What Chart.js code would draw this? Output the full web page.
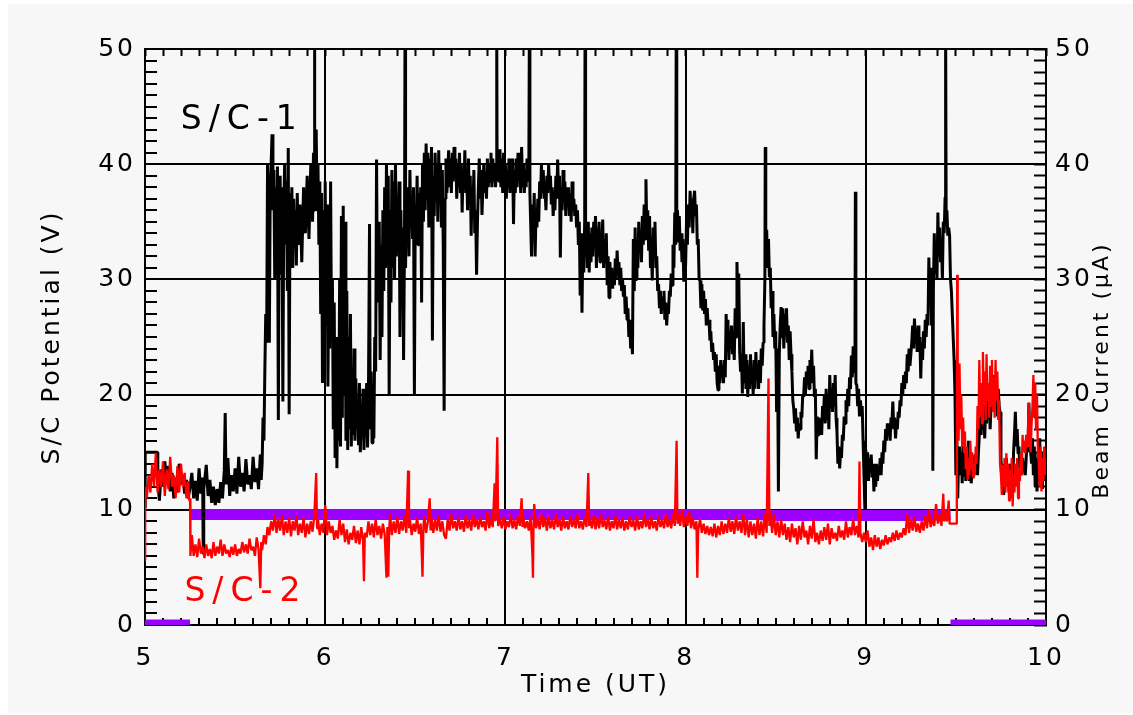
<!DOCTYPE html>
<html><head><meta charset="utf-8">
<script src="https://cdn.jsdelivr.net/npm/chart.js@4.4.0/dist/chart.umd.min.js"></script>
<style>html,body{margin:0;padding:0;background:#fff;}#wrap{width:1133px;height:715px;position:relative;}</style>
</head><body><div id="wrap"><canvas id="c" width="1133" height="715"></canvas></div>
<script>
// ---- axis definitions ----
const xRange = [5, 10];
const yRange = [0, 50];
const xTitle = 'Time (UT)';
const yTitle = 'S/C Potential (V)';
const y2Title = 'Beam Current (\u03bcA)';
const label1 = 'S/C-1';
const label2 = 'S/C-2';
const label1Pos = [5.54, 43.8];
const label2Pos = [5.56, 2.8];

// ---- S/C-1 potential (V) : [time UT, volts] ----
const sc1 = [[5.000,10.2],[5.001,15.0],[5.07,15.0],[5.071,12.5],[5.08,10.8],[5.09,13.5],[5.10,12.0],[5.11,14.2],[5.12,12.4],[5.13,13.8],[5.14,11.6],[5.15,13.2],[5.16,11.0],[5.17,12.8],[5.18,11.5],[5.19,14.0],[5.20,12.2],[5.21,13.0],[5.22,11.4],[5.23,12.6],[5.24,11.0],[5.25,12.0],
[5.26,13.2],[5.27,11.0],[5.28,12.5],[5.29,10.8],[5.30,13.6],[5.31,11.4],[5.32,12.8],[5.323,6.2],[5.326,11.8],[5.34,13.9],[5.35,11.2],[5.36,12.6],[5.37,10.6],[5.38,12.0],[5.39,10.4],[5.40,11.8],[5.41,10.6],[5.42,12.4],[5.43,11.0],[5.44,13.4],[5.445,18.4],[5.45,12.2],[5.46,14.5],[5.47,11.2],[5.48,13.0],[5.49,11.6],[5.50,13.6],[5.51,11.4],[5.52,14.6],[5.53,12.0],[5.54,13.2],[5.55,11.6],[5.56,14.4],[5.57,12.2],[5.58,13.0],[5.59,11.8],[5.60,14.6],[5.61,12.4],[5.62,13.6],[5.63,11.8],[5.64,14.8],[5.645,12.6],[5.65,14.0],[5.655,18.0],[5.66,16.0],[5.665,22.0],[5.67,27.0],[5.675,24.5],[5.68,40.0],[5.685,34.0],[5.69,24.5],[5.695,38.0],[5.70,40.0],[5.705,42.6],[5.71,36.0],[5.715,39.5],[5.72,30.0],[5.725,38.0],[5.73,32.0],[5.735,39.8],[5.74,17.8],[5.745,37.0],[5.75,39.0],[5.755,30.5],[5.76,38.0],[5.765,19.4],[5.77,36.0],[5.775,40.0],[5.78,33.0],[5.785,38.5],[5.79,29.0],[5.795,41.4],[5.80,18.3],[5.805,37.5],[5.81,32.0],[5.815,38.0],[5.82,31.0],[5.825,37.0],[5.83,33.0],[5.835,36.0],[5.84,31.2],[5.845,37.5],[5.85,33.0],[5.86,36.5],[5.87,31.5],[5.88,38.0],[5.89,34.0],[5.90,39.0],[5.91,33.5],[5.92,40.0],[5.93,35.0],[5.935,41.0],[5.94,36.0],[5.941,52],[5.942,38.0],[5.95,43.0],[5.955,36.0],[5.96,40.0],[5.965,33.0],[5.97,38.5],[5.975,27.0],[5.98,37.5],[5.985,21.0],[5.99,36.0],[5.995,22.5],[6.00,38.5],[6.005,26.0],[6.01,36.5],[6.015,20.7],[6.02,30.0],[6.025,24.0],[6.03,38.5],[6.035,25.0],[6.04,30.0],[6.045,17.0],[6.05,28.0],[6.055,14.5],[6.06,25.0],[6.065,13.6],[6.07,22.0],[6.075,16.0],[6.08,30.0],[6.085,15.5],[6.09,35.5],[6.095,18.0],[6.10,36.4],[6.105,20.0],[6.11,35.0],[6.115,16.0],[6.12,29.0],[6.125,15.2],[6.13,25.0],[6.135,17.0],[6.14,27.0],[6.145,15.5],[6.15,22.0],[6.155,16.5],[6.16,24.0],[6.165,16.0],[6.17,21.4],[6.175,17.0],[6.18,19.5],[6.185,15.6],[6.19,21.0],[6.195,15.0],[6.20,19.0],[6.205,16.2],[6.21,20.5],[6.215,15.2],[6.22,18.0],[6.225,16.8],[6.23,21.0],[6.235,15.4],[6.24,20.0],[6.246,34.8],[6.25,17.0],[6.255,22.0],[6.26,15.8],[6.265,20.0],[6.27,16.2],[6.275,25.0],[6.28,22.0],[6.285,40.4],[6.29,28.0],[6.30,35.0],[6.305,23.0],[6.31,33.0],[6.315,25.0],[6.32,36.0],[6.325,29.0],[6.33,38.0],[6.335,31.0],[6.34,40.0],[6.345,33.0],[6.35,39.0],[6.355,19.9],[6.36,36.0],[6.365,28.0],[6.37,39.5],[6.375,31.0],[6.38,38.5],[6.385,30.0],[6.39,40.0],[6.395,32.0],[6.40,37.0],[6.405,34.0],[6.41,38.5],[6.415,25.0],[6.42,36.0],[6.425,29.0],[6.43,34.5],[6.435,23.0],[6.44,33.0],[6.443,52],[6.446,31.0],[6.45,36.0],[6.455,33.0],[6.46,38.0],[6.465,32.0],[6.47,39.5],[6.475,35.0],[6.48,37.0],[6.485,33.5],[6.49,38.0],[6.495,20.0],[6.50,36.5],[6.505,34.0],[6.51,39.0],[6.515,33.0],[6.52,37.5],[6.525,34.5],[6.53,38.0],[6.535,28.0],[6.54,40.0],[6.545,35.0],[6.55,41.0],[6.555,36.0],[6.56,41.8],[6.565,37.0],[6.57,41.0],[6.575,34.5],[6.58,40.5],[6.585,36.0],[6.59,41.5],[6.595,24.7],[6.60,39.0],[6.605,35.5],[6.61,41.0],[6.615,37.0],[6.62,40.0],[6.625,35.0],[6.63,41.2],[6.635,36.5],[6.64,40.0],[6.645,34.5],[6.65,39.5],[6.655,33.0],[6.66,18.6],[6.665,37.0],[6.67,40.5],[6.675,37.5],
[6.68,39.0],[6.685,41.2],[6.69,38.0],[6.695,40.5],[6.70,37.5],[6.705,41.0],[6.71,38.5],[6.715,41.5],[6.72,39.0],[6.725,40.5],[6.73,37.0],[6.735,40.0],[6.74,38.0],[6.745,41.0],[6.75,37.5],[6.755,40.0],[6.76,35.8],[6.765,39.5],[6.77,38.0],[6.775,41.2],[6.78,37.5],[6.785,39.5],[6.79,36.0],[6.795,40.5],[6.80,37.0],[6.805,39.0],[6.81,33.8],[6.815,38.0],[6.82,36.0],[6.825,39.5],[6.83,34.0],[6.835,36.0],[6.84,30.4],[6.845,35.0],[6.85,38.0],[6.855,40.5],[6.86,37.0],[6.865,39.5],[6.87,35.6],[6.875,38.0],[6.88,40.0],[6.885,37.5],[6.89,39.0],[6.895,37.0],[6.90,40.5],[6.905,38.0],[6.91,40.0],[6.915,38.5],[6.92,41.0],[6.925,38.0],[6.93,40.5],[6.935,38.5],[6.94,40.0],[6.945,38.0],[6.95,39.0],[6.952,52],[6.954,39.5],[6.96,41.0],[6.965,38.5],[6.97,41.3],[6.975,38.0],[6.98,40.5],[6.985,37.5],[6.99,41.0],[6.995,38.5],[7.00,40.0],[7.005,37.0],[7.01,39.5],[7.015,38.0],[7.02,40.5],[7.025,37.5],[7.03,39.0],[7.035,38.0],[7.04,40.5],[7.045,34.8],[7.05,39.5],[7.055,37.5],[7.06,40.5],[7.065,38.0],[7.07,41.0],[7.075,38.5],[7.08,40.0],[7.085,37.5],[7.09,41.5],[7.095,38.0],[7.10,40.0],[7.105,37.5],[7.11,39.5],[7.115,38.0],[7.12,40.5],[7.125,38.5],[7.13,39.0],[7.133,52],[7.136,37.5],[7.14,35.0],[7.145,32.0],[7.15,36.5],[7.155,34.0],[7.16,37.5],[7.165,32.0],[7.17,36.0],[7.175,34.5],[7.18,37.0],[7.185,35.0],[7.19,38.5],[7.195,37.0],[7.20,40.0],[7.205,37.5],[7.21,39.5],[7.215,37.0],[7.22,38.0],[7.225,36.0],[7.23,39.0],[7.235,37.5],[7.24,40.0],[7.245,38.0],[7.25,39.0],[7.255,36.5],[7.26,38.0],[7.265,35.5],[7.27,37.0],[7.275,36.0],[7.28,39.0],[7.285,37.0],[7.29,40.4],[7.295,37.5],[7.30,39.0],[7.305,31.9],[7.31,38.0],[7.315,36.0],[7.32,39.5],[7.325,37.0],[7.33,38.5],[7.335,35.5],[7.34,38.0],[7.345,36.5],[7.35,38.0],[7.355,35.5],[7.36,37.5],[7.365,35.0],[7.37,38.5],[7.375,36.0],[7.38,37.0],[7.385,35.5],[7.39,36.5],[7.395,34.5],[7.40,36.0],[7.405,33.0],[7.41,35.0],[7.415,28.6],[7.42,34.0],[7.425,27.1],[7.43,33.5],[7.435,30.6],[7.44,35.1],[7.442,52],[7.445,32.0],[7.45,34.5],[7.455,31.0],[7.46,35.0],[7.465,30.6],[7.47,34.0],[7.475,31.5],[7.48,34.5],[7.485,32.0],[7.49,35.0],
[7.495,33.0],[7.50,35.5],[7.505,31.0],[7.51,34.5],[7.515,32.0],[7.52,35.0],[7.525,31.5],[7.53,34.0],[7.535,32.5],[7.54,35.2],[7.545,31.0],[7.55,33.5],[7.555,31.5],[7.56,34.0],[7.565,29.5],[7.57,32.0],[7.575,28.4],[7.58,31.5],[7.585,29.5],[7.59,31.0],[7.595,29.2],[7.60,30.5],[7.605,29.5],[7.61,31.8],[7.615,30.0],[7.62,32.5],[7.625,30.5],[7.63,31.5],[7.635,29.5],[7.64,31.0],[7.645,29.0],[7.65,30.0],[7.655,28.5],[7.66,29.5],[7.665,27.0],[7.67,28.5],[7.675,26.5],[7.68,27.5],[7.685,25.0],[7.69,26.5],[7.695,24.0],[7.70,25.5],[7.705,23.5],[7.71,33.5],[7.715,29.0],[7.72,34.5],[7.725,30.0],[7.73,33.0],[7.735,31.0],[7.74,35.0],[7.745,32.5],[7.75,34.0],[7.755,31.5],[7.76,35.5],[7.765,33.0],[7.77,36.5],[7.775,33.5],[7.78,38.7],[7.785,34.0],[7.79,36.0],[7.795,32.5],[7.80,35.5],[7.805,31.0],[7.81,33.0],[7.815,29.9],[7.82,34.5],[7.825,32.0],[7.83,35.0],[7.835,31.0],[7.84,32.0],[7.845,29.0],[7.85,29.6],[7.855,27.5],[7.86,29.0],[7.865,27.0],[7.87,28.5],[7.875,27.5],[7.88,29.0],[7.885,26.5],[7.89,28.0],[7.895,26.0],[7.90,27.5],[7.905,27.0],[7.91,29.0],[7.915,28.5],[7.92,30.5],[7.925,29.5],[7.93,33.0],[7.935,31.0],[7.94,35.8],[7.945,33.0],[7.948,52],[7.951,34.0],[7.955,36.0],[7.96,33.2],[7.965,35.5],[7.97,32.5],[7.975,34.0],[7.98,31.5],[7.985,33.5],[7.99,29.8],[7.995,33.0],[8.00,31.2],[8.005,35.0],[8.01,33.0],[8.015,36.5],[8.02,34.5],[8.025,37.7],[8.03,35.5],[8.035,37.0],
[8.04,34.0],[8.045,37.0],[8.05,37.7],[8.055,35.5],[8.06,36.5],[8.065,33.0],[8.07,33.5],[8.075,30.0],[8.08,29.9],[8.085,27.5],[8.09,29.6],[8.095,27.3],[8.10,29.0],[8.105,27.0],[8.11,28.3],[8.115,26.0],[8.12,27.5],[8.125,26.0],[8.13,26.5],[8.135,24.7],[8.14,25.5],[8.145,23.7],[8.15,24.5],[8.155,23.0],[8.16,23.7],[8.165,22.0],[8.17,23.5],[8.175,21.0],[8.18,20.4],[8.185,22.5],[8.19,21.0],[8.195,23.0],[8.20,21.5],[8.205,22.5],[8.21,21.0],[8.215,23.0],[8.22,21.5],[8.225,27.0],[8.23,24.0],[8.235,26.5],[8.24,23.0],[8.245,25.5],[8.25,24.0],[8.255,26.0],[8.26,23.5],[8.265,25.0],[8.27,23.0],[8.275,27.5],[8.28,25.0],[8.285,31.5],[8.29,28.0],[8.295,30.5],[8.30,23.7],[8.305,22.0],[8.31,23.5],[8.315,20.1],
[8.32,26.3],[8.325,21.0],[8.33,23.5],[8.335,20.5],[8.34,23.0],[8.345,19.8],[8.35,22.5],[8.355,20.5],[8.36,23.5],[8.365,21.0],[8.37,22.0],[8.375,20.0],[8.38,23.0],[8.385,20.5],[8.39,23.7],[8.395,21.5],[8.40,22.5],[8.405,20.5],[8.41,23.0],[8.415,21.0],[8.42,24.0],[8.425,22.5],[8.43,24.5],[8.435,26.0],[8.44,30.0],[8.442,41.5],[8.445,32.0],[8.45,34.3],[8.455,31.0],[8.46,33.5],[8.465,30.2],[8.47,31.0],[8.475,27.5],[8.48,29.0],[8.485,25.0],[8.49,27.0],[8.495,24.0],[8.50,25.5],[8.505,18.5],[8.51,24.0],[8.515,11.6],[8.52,23.5],[8.525,26.0],[8.53,27.6],[8.535,25.0],[8.54,27.5],[8.545,24.0],[8.55,27.0],[8.555,25.5],[8.56,27.5],[8.565,24.5],[8.57,26.0],[8.575,23.0],[8.58,25.5],[8.585,23.5],[8.59,22.0],[8.595,19.5],[8.60,18.8],[8.605,17.5],[8.61,18.8],[8.615,16.8],[8.62,18.0],[8.625,16.2],[8.63,17.5],[8.635,17.0],[8.64,18.5],[8.645,18.0],[8.65,20.0],[8.655,19.8],[8.66,21.5],[8.665,20.0],[8.67,22.0],[8.675,21.0],[8.68,22.5],[8.685,20.5],[8.69,23.0],[8.695,21.5],[8.70,23.9],[8.705,21.0],[8.71,22.5],[8.715,19.8],[8.72,20.5],[8.725,14.4],[8.73,18.1],[8.735,16.5],[8.74,18.0],[8.745,17.0],[8.75,17.5],[8.755,16.5],[8.76,19.0],[8.765,18.0],[8.77,20.0],[8.775,17.5],[8.78,20.5],[8.785,18.0],[8.79,19.5],[8.795,17.0],[8.80,21.7],[8.805,19.0],[8.81,20.5],[8.815,18.5],[8.82,21.0],[8.825,19.0],[8.83,21.7],[8.835,18.0],[8.84,16.8],[8.845,14.0],[8.85,15.5],[8.855,13.6],[8.86,15.0],[8.865,14.5],[8.87,16.5],[8.875,16.0],[8.88,18.1],[8.885,17.5],[8.89,19.5],[8.895,18.5],[8.90,20.5],[8.905,19.0],[8.91,21.5],[8.915,20.5],[8.92,23.4],[8.925,21.5],[8.93,24.2],[8.935,22.0],[8.94,23.0],[8.942,37.6],[8.945,21.0],[8.95,20.8],[8.955,19.0],[8.96,20.5],[8.965,18.1],[8.97,19.5],[8.975,18.5],[8.98,19.0],[8.985,16.0],[8.99,13.0],[8.995,10.0],[9.00,15.2],[9.005,13.0],[9.01,15.0],[9.015,12.5],[9.02,14.5],[9.025,13.5],[9.03,14.8],[9.035,12.8],[9.04,14.0],[9.045,11.6],[9.05,13.5],[9.055,12.0],[9.06,14.0],[9.065,12.5],[9.07,13.8],[9.075,13.0],[9.08,14.5],[9.085,13.0],[9.09,15.0],[9.095,14.0],[9.10,16.0],[9.105,15.0],[9.11,17.0],[9.115,16.0],[9.12,17.5],[9.125,16.5],[9.13,17.5],[9.135,16.0],[9.14,18.0],[9.145,17.5],[9.15,19.4],[9.155,17.0],[9.16,18.0],[9.165,16.2],[9.17,17.5],[9.175,17.0],[9.18,18.5],[9.185,18.0],[9.19,19.5],[9.195,19.0],[9.20,21.0],[9.205,20.0],[9.21,21.7],[9.215,20.5],[9.22,22.0],[9.225,21.0],[9.23,23.5],[9.235,22.0],[9.24,24.0],[9.245,22.5],[9.25,23.5],[9.255,24.5],[9.26,26.0],[9.265,24.0],[9.27,26.6],[9.275,24.5],[9.28,25.5],[9.285,23.7],[9.29,26.0],[9.295,24.0],[9.30,25.0],[9.305,21.4],[9.31,24.5],[9.315,23.0],[9.32,25.5],[9.325,24.0],[9.33,26.5],[9.335,25.0],[9.34,27.0],[9.345,26.0],[9.35,31.9],[9.355,28.0],[9.36,31.0],[9.365,26.0],[9.37,30.0],[9.372,13.4],[9.375,29.0],[9.38,34.0],[9.385,30.5],[9.39,33.0],[9.395,30.0],[9.40,35.8],[9.405,32.0],[9.41,34.5],[9.415,31.5],[9.42,33.0],[9.425,30.0],[9.43,35.0],[9.435,34.0],[9.44,37.1],[9.443,52],[9.446,35.0],[9.45,36.0],[9.455,33.8],[9.46,34.5],[9.465,33.8],[9.47,30.0],[9.475,29.0],[9.48,27.0],[9.485,25.0],[9.49,23.0],[9.495,20.0],[9.50,13.0],[9.505,16.5],[9.51,11.0],[9.515,14.5],[9.52,15.5],[9.525,13.0],[9.53,15.0],[9.535,12.3],[9.54,16.2],[9.545,13.0],[9.55,15.0],[9.555,12.5],[9.56,14.5],[9.565,13.0],[9.57,16.0],[9.575,12.5],[9.58,14.0],[9.585,12.3],[9.59,13.5],[9.595,14.5],[9.60,13.0],[9.605,14.8],[9.61,13.5],[9.615,14.0],[9.62,13.0],[9.625,15.0],[9.63,16.5],[9.635,18.0],[9.64,16.5],[9.645,19.8],[9.65,17.0],[9.655,18.5],[9.66,16.2],[9.665,19.0],[9.67,17.5],[9.675,20.0],[9.68,18.0],[9.685,19.5],[9.69,17.0],[9.695,19.0],[9.70,18.5],[9.705,20.5],[9.71,19.0],[9.715,21.7],[9.72,19.5],[9.725,21.0],[9.73,18.1],[9.735,20.5],[9.74,19.0],[9.745,18.5],[9.75,14.5],[9.755,12.5],[9.76,14.0],[9.765,11.3],[9.77,13.5],[9.775,12.0],[9.78,14.5],[9.785,12.5],[9.79,13.5],[9.795,11.5],[9.80,14.0],[9.805,12.5],[9.81,13.5],[9.815,12.0],[9.82,15.0],[9.825,16.5],[9.83,18.5],[9.835,15.5],[9.84,17.0],[9.845,14.9],[9.85,15.5],[9.855,13.5],[9.86,14.5],[9.865,13.0],[9.87,14.5],[9.875,13.5],[9.88,14.0],[9.885,13.0],[9.89,14.5],[9.895,16.0],[9.90,15.0],[9.905,19.3],[9.91,16.0],[9.915,15.0],[9.92,14.0],[9.925,16.2],[9.93,13.0],[9.935,15.5],[9.94,12.0],[9.945,14.5],[9.95,11.6],[9.955,15.0],[9.96,12.5],[9.965,16.2],[9.97,12.0],[9.975,14.5],[9.98,11.8],[9.985,15.0],[9.99,12.5],[9.995,14.0],[10.0,13.0]];

// ---- S/C-2 potential (V) : [time UT, volts] ----
const sc2 = [[5.000,5.6],[5.001,12.0],[5.01,11.0],[5.02,13.0],[5.03,11.5],[5.04,14.0],[5.05,12.0],[5.06,14.9],[5.07,11.5],[5.08,13.5],[5.09,12.0],[5.10,14.2],[5.11,11.2],[5.12,13.5],[5.13,11.8],[5.14,14.6],[5.15,12.0],[5.16,13.0],[5.17,11.0],[5.18,13.8],[5.19,11.5],[5.20,14.0],[5.21,12.0],[5.22,13.2],[5.23,11.0],[5.24,12.5],[5.245,10.8],[5.25,11.0],[5.252,6.0],
[5.26,7.8],[5.27,6.0],[5.28,7.0],[5.29,5.9],[5.30,7.5],[5.31,6.2],[5.32,6.8],[5.33,5.8],[5.34,7.0],[5.35,6.0],[5.36,6.6],[5.37,5.8],[5.38,7.2],[5.39,6.0],[5.40,6.8],[5.41,6.2],[5.42,7.4],[5.43,6.0],[5.44,7.0],[5.45,6.2],[5.46,6.5],[5.47,5.9],[5.48,6.8],[5.49,6.1],[5.50,7.0],[5.51,6.0],[5.52,6.6],[5.53,6.2],[5.54,7.2],[5.55,6.3],[5.56,7.0],[5.57,6.2],[5.58,7.5],[5.59,6.5],[5.60,6.8],[5.61,6.0],[5.62,7.6],[5.63,6.6],[5.64,3.2],[5.645,7.2],[5.65,6.5],[5.66,7.8],[5.67,7.0],[5.68,8.5],[5.69,7.8],[5.70,9.0],[5.71,8.2],[5.72,9.6],[5.73,8.0],[5.74,9.2],[5.75,8.2],[5.76,9.5],[5.77,7.8],[5.78,9.0],[5.79,8.0],[5.80,9.3],[5.81,7.7],[5.82,9.0],[5.83,8.2],[5.84,9.5],[5.85,7.8],[5.86,8.8],[5.87,8.0],[5.88,9.3],[5.89,7.6],[5.90,8.8],[5.91,7.9],[5.92,9.0],[5.93,8.1],[5.94,9.6],[5.95,13.2],[5.955,8.4],[5.96,9.2],[5.97,7.8],[5.98,8.8],[5.99,8.0],[6.00,10.4],[6.01,7.8],[6.02,9.0],[6.03,8.0],[6.04,8.6],[6.05,7.4],[6.06,8.2],[6.07,7.5],[6.08,9.2],[6.09,7.8],[6.10,8.8],[6.11,7.2],[6.12,8.3],[6.13,7.0],[6.14,8.0],[6.15,7.4],[6.16,8.6],[6.17,7.1],[6.18,8.2],[6.19,7.0],[6.20,8.5],[6.21,7.3],[6.215,3.8],[6.22,8.0],[6.23,7.6],[6.24,9.0],[6.25,7.8],[6.26,8.8],[6.27,7.6],[6.28,9.2],[6.29,7.8],[6.30,8.6],[6.31,7.5],[6.32,8.8],[6.33,7.9],[6.34,4.1],[6.345,8.5],[6.35,4.2],[6.355,8.3],[6.36,9.6],[6.37,7.8],[6.38,9.0],[6.39,8.0],[6.40,9.4],[6.41,7.9],[6.42,9.0],[6.43,8.2],[6.44,9.5],[6.45,8.0],[6.46,13.4],[6.465,8.4],[6.47,9.2],[6.48,7.8],[6.49,8.8],[6.50,8.1],[6.51,9.3],[6.52,7.9],[6.53,8.8],[6.54,4.2],[6.545,8.5],[6.55,9.5],[6.56,8.0],[6.57,9.0],[6.58,11.0],[6.585,8.2],[6.59,9.3],[6.60,8.0],[6.61,9.2],[6.62,8.2],[6.63,9.5],[6.64,8.1],[6.65,9.0],[6.66,7.8],[6.67,7.5],[6.68,9.2],[6.69,8.2],[6.70,9.6],[6.71,8.4],[6.72,9.0],[6.73,8.2],[6.74,9.4],[6.75,8.3],[6.76,9.0],[6.77,8.1],[6.78,9.5],[6.79,8.4],[6.80,9.1],[6.81,8.2],[6.82,9.6],[6.83,8.5],[6.84,9.2],[6.85,8.3],[6.86,9.4],[6.87,8.5],[6.88,9.0],[6.89,8.2],[6.90,9.8],[6.91,8.4],[6.92,9.2],[6.93,8.5],[6.94,12.3],[6.945,9.0],[6.955,16.3],[6.96,8.6],[6.97,9.2],[6.98,8.4],[6.99,9.4],[7.00,8.3],[7.01,9.0],[7.02,8.5],[7.03,9.6],[7.04,8.4],[7.05,9.1],[7.06,8.3],[7.07,9.5],[7.08,8.6],[7.09,11.0],[7.095,8.5],[7.10,9.3],[7.11,8.4],[7.12,9.0],[7.13,8.2],[7.14,9.4],[7.15,6.0],[7.153,4.1],[7.156,8.6],[7.16,10.5],[7.17,8.4],[7.18,9.2],[7.19,8.3],[7.20,9.6],[7.21,8.5],[7.22,9.3],[7.23,8.2],[7.24,9.5],[7.25,8.4],[7.26,9.1],[7.27,8.3],[7.28,9.6],[7.29,8.5],[7.30,9.2],[7.31,8.2],[7.32,9.4],[7.33,8.4],[7.34,9.0],[7.35,8.3],[7.36,9.5],[7.37,8.5],[7.38,9.2],[7.39,8.4],[7.40,9.6],[7.41,8.4],[7.42,9.0],[7.43,8.3],[7.44,9.4],[7.45,8.5],[7.46,13.2],[7.465,8.6],[7.47,9.2],[7.48,8.4],[7.49,9.5],[7.50,8.3],[7.51,9.3],[7.52,8.4],[7.53,9.6],[7.54,8.5],[7.55,9.1],[7.56,8.3],[7.57,9.4],[7.58,8.2],[7.59,9.0],[7.60,8.4],[7.61,9.5],[7.62,8.3],[7.63,9.2],[7.64,8.4],[7.65,9.3],[7.66,8.2],[7.67,9.0],[7.68,8.3],[7.69,9.4],[7.70,8.5],[7.71,9.1],[7.72,8.2],[7.73,9.5],[7.74,8.3],[7.75,9.0],[7.76,8.4],[7.77,9.6],[7.78,8.5],[7.79,9.2],[7.80,8.3],[7.81,9.4],[7.82,8.4],[7.83,9.0],[7.84,8.2],[7.85,9.5],[7.86,8.5],[7.87,9.1],[7.88,8.4],[7.89,9.6],[7.90,8.5],[7.91,9.2],[7.92,8.4],[7.93,9.6],[7.94,8.6],[7.95,16.0],[7.955,8.8],[7.96,9.6],[7.97,8.6],[7.98,10.0],[7.99,8.5],[8.00,9.5],[8.01,8.6],[8.02,9.8],[8.03,8.4],[8.04,9.3],[8.05,8.3],[8.06,9.0],[8.065,4.1],[8.07,8.2],[8.08,9.2],[8.09,8.0],[8.10,8.8],[8.11,7.9],[8.12,8.6],[8.13,7.8],[8.14,8.5],[8.15,7.7],[8.16,8.8],[8.17,7.6],[8.18,8.6],[8.19,7.8],[8.20,9.0],[8.21,7.9],[8.22,8.8],[8.23,8.0],[8.24,9.3],[8.25,8.1],[8.26,9.0],[8.27,7.9],[8.28,9.4],[8.29,8.2],[8.30,9.0],[8.31,8.0],[8.32,9.6],[8.33,7.8],[8.34,9.2],[8.35,7.6],[8.36,9.0],[8.37,7.8],[8.38,8.8],[8.39,7.5],[8.40,9.3],[8.41,7.8],[8.42,9.0],[8.43,7.7],[8.44,9.6],[8.45,8.0],[8.46,21.4],[8.465,8.6],[8.47,10.0],[8.48,8.0],[8.49,9.6],[8.50,7.8],[8.51,9.0],[8.52,7.6],[8.53,9.2],[8.54,7.8],[8.55,8.8],[8.56,7.4],[8.57,8.5],[8.58,7.2],[8.59,8.8],[8.60,7.6],[8.61,8.4],[8.62,7.0],[8.63,8.6],[8.64,7.4],[8.65,9.0],[8.66,7.6],[8.67,8.2],[8.68,7.0],[8.69,8.6],[8.70,7.5],[8.71,9.2],[8.72,7.2],[8.73,8.0],[8.74,7.0],[8.75,8.2],[8.76,7.3],[8.77,8.5],[8.78,7.4],[8.79,8.8],[8.80,7.0],[8.81,8.4],[8.82,7.5],[8.83,8.0],[8.84,7.3],[8.85,8.6],[8.86,7.6],[8.87,8.2],[8.88,7.4],[8.89,9.0],[8.90,7.6],[8.91,8.5],[8.92,7.8],[8.93,9.2],[8.94,7.8],[8.95,8.6],[8.96,7.6],[8.965,14.2],[8.97,8.0],[8.98,7.2],[8.99,8.0],[9.00,7.2],[9.01,8.2],[9.02,6.8],[9.03,7.6],[9.04,6.5],[9.05,7.8],[9.06,6.8],[9.07,7.6],[9.08,6.6],[9.09,7.4],[9.10,6.9],[9.11,7.8],[9.12,7.0],[9.13,7.6],[9.14,7.2],[9.15,8.0],[9.16,7.3],[9.17,8.2],[9.18,7.4],[9.19,8.0],[9.20,7.6],[9.21,8.4],[9.22,7.8],[9.23,9.6],[9.24,8.0],[9.25,9.2],[9.26,8.2],[9.27,9.4],[9.28,8.1],[9.29,8.8],[9.30,8.0],[9.31,9.0],[9.32,8.2],[9.33,9.5],[9.34,8.4],[9.35,10.0],[9.36,8.5],[9.37,9.2],[9.38,8.6],[9.39,10.5],[9.40,8.8],[9.41,9.6],[9.42,8.6],[9.43,11.4],[9.435,9.0],[9.44,9.8],[9.45,9.0],[9.46,10.8],[9.465,8.8],[9.505,8.8],[9.507,30.4],[9.51,22.0],[9.515,16.0],[9.52,22.7],[9.525,17.0],[9.53,20.0],[9.535,15.5],[9.54,18.0],[9.545,15.0],[9.55,16.8],[9.555,13.5],[9.56,15.5],[9.565,12.6],[9.57,14.5],[9.575,13.0],[9.58,16.0],[9.585,13.5],[9.59,15.0],[9.595,12.8],[9.60,14.0],[9.605,13.0],[9.61,15.5],[9.615,14.0],[9.62,19.0],[9.625,17.0],[9.63,23.0],[9.635,18.1],[9.64,21.0],[9.645,17.5],[9.65,23.7],[9.655,19.0],[9.66,22.0],[9.665,17.8],[9.67,23.5],[9.675,19.5],[9.68,21.0],[9.685,18.0],[9.69,22.5],[9.695,19.0],[9.70,23.0],[9.705,18.5],[9.71,21.5],[9.715,18.0],[9.72,23.0],[9.725,19.5],[9.73,22.0],[9.735,17.8],[9.74,19.5],[9.745,14.0],[9.75,13.0],[9.755,11.3],[9.76,13.9],[9.765,12.0],[9.77,14.5],[9.775,11.5],[9.78,14.9],[9.785,12.0],[9.79,14.0],[9.795,10.8],[9.80,13.5],[9.805,11.0],[9.81,14.5],[9.815,10.3],[9.82,13.0],[9.825,11.5],[9.83,14.0],[9.835,12.0],[9.84,14.5],[9.845,11.0],[9.85,13.5],[9.855,12.5],[9.86,14.9],[9.865,13.0],[9.87,16.5],[9.875,15.0],[9.88,16.0],[9.885,14.9],[9.89,16.5],[9.895,15.5],[9.90,17.0],[9.905,19.3],[9.91,16.0],[9.915,15.0],[9.92,17.5],[9.925,19.0],[9.93,21.7],[9.935,18.0],[9.94,21.0],[9.945,17.0],[9.95,20.0],[9.955,15.0],[9.96,14.0],[9.965,12.0],[9.97,15.5],[9.975,11.6],[9.98,14.5],[9.985,12.5],[9.99,15.5],[9.995,13.0],[10.0,14.5]];

// ---- Beam current (uA) : [time UT, microamps], null = beam gap ----
const beam = [[5.0,0],[5.25,0],[5.25,null],[5.25,9.6],[6.5,9.6],[8.4,9.6],[8.45,9.5],[9.3,9.5],[9.47,9.6],[9.47,null],[9.47,0],[10.0,0]];

const FONT = "'DejaVu Sans', 'Liberation Sans', sans-serif";
const toXY = arr => arr.map(p => ({x: p[0], y: p[1]}));
const isMajorX = v => Math.abs(v - Math.round(v)) < 1e-6;
const isMajorY = v => Math.abs(v / 10 - Math.round(v / 10)) < 1e-6;

const decor = {
  id: 'decor',
  beforeDraw(chart) {
    const c = chart.ctx;
    c.save();
    c.fillStyle = '#ffffff';
    c.fillRect(0, 0, chart.width, chart.height);
    c.fillStyle = '#f7f7f7';
    c.fillRect(8, 4, chart.width - 8, chart.height - 6);
    c.restore();
    c.letterSpacing = '3px';
  },
  afterDatasetsDraw(chart) {
    const c = chart.ctx, xs = chart.scales.x, ys = chart.scales.y;
    c.save();
    c.letterSpacing = '7px';
    c.font = '33px ' + FONT;
    c.textAlign = 'center';
    c.textBaseline = 'middle';
    c.fillStyle = '#000';
    c.fillText(label1, xs.getPixelForValue(label1Pos[0]), ys.getPixelForValue(label1Pos[1]));
    c.fillStyle = '#ff0000';
    c.fillText(label2, xs.getPixelForValue(label2Pos[0]), ys.getPixelForValue(label2Pos[1]));
    c.restore();
  },
  afterDraw(chart) {
    const c = chart.ctx, y2 = chart.scales.y2;
    c.save();
    c.letterSpacing = '3px';
    c.translate(y2.right - 31, (y2.top + y2.bottom) / 2 + 33);
    c.rotate(-Math.PI / 2);
    c.font = '22px ' + FONT;
    c.textAlign = 'center';
    c.textBaseline = 'middle';
    c.fillStyle = '#000';
    c.fillText(y2Title, 0, 0);
    c.restore();
  }
};

const tickFont = {family: FONT, size: 25};
const border = {display: true, color: '#000', width: 2};

new Chart(document.getElementById('c'), {
  type: 'line',
  data: {
    datasets: [
      {label: label2, data: toXY(sc2), borderColor: '#ff0000', borderWidth: 2.3, pointRadius: 0, tension: 0, borderJoinStyle: 'bevel', clip: 0, order: 0, xAxisID: 'x', yAxisID: 'y'},
      {label: label1, data: toXY(sc1), borderColor: '#000000', borderWidth: 3, pointRadius: 0, tension: 0, borderJoinStyle: 'bevel', clip: 0, order: 1, xAxisID: 'x', yAxisID: 'y'},
      {label: 'Beam', data: toXY(beam), borderColor: '#9b00ff', borderWidth: 11, borderCapStyle: 'butt', pointRadius: 0, tension: 0, spanGaps: false, clip: 0, order: 2, xAxisID: 'x', yAxisID: 'y2'}
    ]
  },
  options: {
    responsive: false, animation: false, devicePixelRatio: 1, events: [],
    layout: {padding: 0},
    plugins: {legend: {display: false}, tooltip: {enabled: false}},
    scales: {
      x: {
        type: 'linear', position: 'bottom', min: xRange[0], max: xRange[1],
        ticks: {stepSize: 0.1, autoSkip: false, maxRotation: 0, padding: 25, color: '#000', font: tickFont,
          callback: v => isMajorX(v) ? String(Math.round(v)) : ''},
        grid: {drawOnChartArea: true, color: c => (c.tick && isMajorX(c.tick.value)) ? '#000' : 'rgba(0,0,0,0)',
          tickColor: '#000', lineWidth: 2, tickWidth: 2, tickLength: -7},
        border: border,
        title: {display: true, text: xTitle, color: '#000', font: tickFont, padding: {top: 0, bottom: 15}},
        afterFit: s => { s.height = 90; }
      },
      x2: {
        type: 'linear', position: 'top', min: xRange[0], max: xRange[1],
        ticks: {display: false, stepSize: 0.1, autoSkip: false},
        grid: {drawOnChartArea: false, color: '#000', tickWidth: 2, tickLength: -7},
        border: border,
        afterFit: s => { s.height = 49; }
      },
      y: {
        type: 'linear', position: 'left', min: yRange[0], max: yRange[1],
        ticks: {stepSize: 1, autoSkip: false, padding: 21, color: '#000', font: tickFont,
          callback: v => isMajorY(v) ? String(Math.round(v)) : ''},
        grid: {drawOnChartArea: true, color: c => (c.tick && isMajorY(c.tick.value)) ? '#000' : 'rgba(0,0,0,0)',
          tickColor: '#000', lineWidth: 2, tickWidth: 2, tickLength: -12},
        border: border,
        title: {display: true, text: yTitle, color: '#000', font: tickFont, padding: {top: 37, bottom: 0}},
        afterFit: s => { s.width = 145; }
      },
      y2: {
        type: 'linear', position: 'right', min: yRange[0], max: yRange[1],
        ticks: {stepSize: 1, autoSkip: false, padding: 21, color: '#000', font: tickFont,
          callback: v => isMajorY(v) ? String(Math.round(v)) : ''},
        grid: {drawOnChartArea: false, color: '#000', tickWidth: 2, tickLength: -12},
        border: border,
        afterFit: s => { s.width = 87; }
      }
    }
  },
  plugins: [decor]
});
</script>
</body></html>
